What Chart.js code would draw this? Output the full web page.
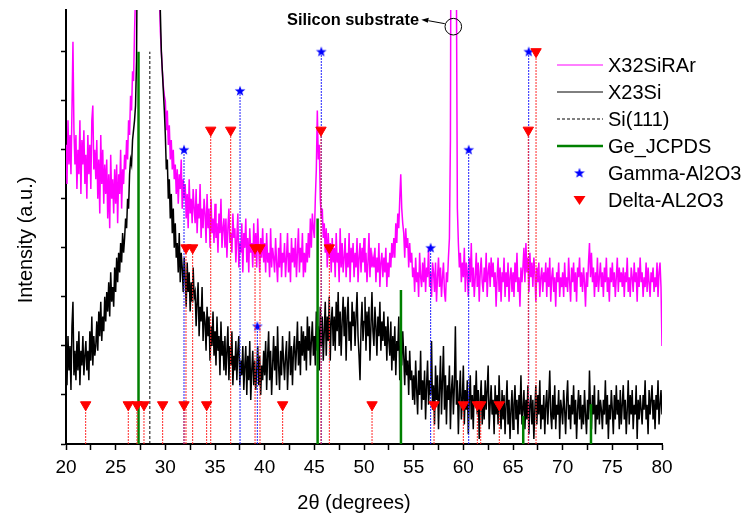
<!DOCTYPE html>
<html>
<head>
<meta charset="utf-8">
<title>XRD</title>
<script src="https://cdn.jsdelivr.net/npm/chart.js@4.4.1/dist/chart.umd.min.js"></script>
<style>
  html, body { margin: 0; padding: 0; background: #fff; }
  canvas { display: block; }
</style>
</head>
<body>
<canvas id="xrd" width="747" height="518"></canvas>
<script>
// scan grid: 20..80 deg, 0.1 deg step
const twoThetaStart = 20;
const twoThetaStep = 0.1;

// X32SiRAr, one row per degree
const x32SiRAr = [
  61, 53, 66, 57, 63, 55, 68, 82, 64, 57,
  63, 52, 60, 55, 66, 51, 62, 57, 64, 53,
  59, 50, 63, 55, 61, 52, 66, 69, 56, 60,
  54, 62, 50, 58, 47, 63, 53, 60, 49, 57,
  51, 58, 46, 55, 44, 59, 50, 54, 47, 56,
  49, 57, 45, 55, 51, 60, 48, 56, 53, 59,
  56, 62, 58, 66, 63, 71, 68, 76, 74, 84,
  92, 120, 200, 200, 200, 200, 200, 200, 200, 200,
  200, 200, 200, 200, 200, 200, 200, 200, 200, 200,
  200, 200, 200, 130, 92, 84, 80, 76, 73, 71,
  70, 64, 68, 61, 65, 58, 62, 56, 60, 54,
  57, 51, 56, 49, 55, 52, 58, 48, 54, 50,
  53, 46, 51, 44, 54, 47, 50, 45, 52, 48,
  45, 52, 43, 49, 46, 53, 42, 48, 44, 50,
  47, 41, 51, 44, 48, 40, 50, 43, 46, 41,
  49, 42, 45, 39, 47, 43, 50, 40, 44, 46,
  40, 46, 38, 44, 48, 41, 43, 39, 47, 42,
  44, 37, 42, 47, 36, 41, 39, 45, 35, 43,
  40, 46, 37, 42, 35, 44, 39, 41, 36, 45,
  38, 43, 36, 46, 40, 35, 42, 38, 44, 37,
  41, 35, 43, 37, 39, 34, 44, 36, 40, 38,
  35, 42, 37, 33, 40, 36, 43, 34, 39, 37,
  41, 34, 38, 43, 35, 39, 33, 42, 37, 40,
  36, 42, 34, 39, 44, 35, 40, 37, 43, 34,
  39, 35, 41, 37, 43, 38, 46, 40, 47, 44,
  42, 50, 56, 68, 58, 61, 50, 46, 48, 42,
  45, 39, 44, 36, 43, 38, 41, 35, 42, 37,
  40, 34, 43, 37, 39, 33, 44, 36, 41, 35,
  38, 42, 34, 39, 36, 43, 33, 40, 37, 41,
  34, 39, 36, 42, 33, 38, 41, 35, 40, 37,
  42, 35, 39, 33, 37, 43, 34, 40, 36, 38,
  36, 40, 33, 38, 35, 41, 32, 37, 39, 34,
  38, 35, 40, 32, 37, 34, 39, 36, 41, 38,
  42, 38, 45, 41, 47, 44, 50, 55, 48, 45,
  43, 38, 44, 40, 42, 36, 41, 37, 39, 34,
  36, 31, 38, 33, 35, 30, 39, 34, 32, 37,
  33, 38, 31, 36, 34, 40, 32, 35, 30, 37,
  35, 31, 37, 29, 34, 38, 32, 36, 30, 34,
  37, 31, 29, 35, 33, 38, 42, 62, 150, 300,
  300, 300, 250, 95, 48, 41, 36, 39, 33, 37,
  34, 40, 31, 37, 35, 30, 38, 33, 41, 32,
  36, 30, 34, 39, 32, 37, 29, 35, 38, 33,
  31, 36, 33, 39, 30, 35, 37, 32, 38, 34,
  37, 32, 35, 28, 34, 38, 31, 36, 29, 35,
  33, 38, 30, 35, 32, 37, 29, 34, 36, 31,
  35, 30, 37, 33, 39, 31, 34, 28, 36, 33,
  36, 40, 33, 41, 35, 38, 31, 39, 34, 37,
  32, 38, 35, 29, 36, 33, 37, 30, 34, 36,
  31, 35, 33, 37, 30, 36, 32, 38, 29, 34,
  36, 31, 34, 28, 35, 33, 37, 30, 34, 32,
  35, 30, 37, 32, 34, 31, 38, 33, 29, 36,
  33, 37, 31, 35, 29, 36, 34, 38, 32, 35,
  31, 36, 33, 28, 35, 32, 37, 41, 34, 39,
  33, 36, 30, 35, 32, 38, 31, 34, 37, 32,
  35, 30, 36, 33, 38, 31, 34, 29, 36, 33,
  37, 32, 35, 30, 34, 38, 31, 36, 33, 35,
  32, 36, 30, 35, 33, 38, 31, 34, 30, 36,
  34, 31, 37, 33, 35, 29, 36, 32, 38, 33,
  35, 30, 34, 32, 37, 31, 36, 33, 30, 35,
  33, 36, 31, 34, 32, 37, 30, 35, 37, 32,
  20
];

// X23Si
const x23Si = [
  18, 12, 22, 15, 20, 11, 24, 29, 14, 19,
  13, 21, 15, 23, 12, 19, 16, 22, 14, 18,
  21, 15, 19, 13, 23, 17, 26, 16, 22, 18,
  20, 25, 19, 27, 22, 29, 21, 26, 23, 30,
  25, 31, 27, 33, 26, 35, 29, 32, 28, 36,
  31, 38, 33, 39, 35, 41, 37, 43, 39, 42,
  46, 44, 50, 48, 55, 58, 57, 62, 64, 66,
  69, 78, 110, 200, 200, 200, 200, 200, 200, 200,
  200, 200, 200, 200, 200, 200, 200, 200, 200, 200,
  200, 200, 200, 140, 100, 88, 80, 76, 72, 68,
  63, 56, 58, 50, 54, 46, 51, 43, 48, 40,
  45, 38, 41, 35, 43, 33, 39, 36, 31, 38,
  34, 28, 37, 31, 35, 27, 33, 29, 36, 30,
  31, 24, 29, 33, 22, 28, 25, 32, 21, 27,
  25, 19, 28, 22, 26, 17, 24, 20, 27, 18,
  23, 16, 26, 19, 22, 14, 25, 18, 21, 15,
  22, 14, 19, 24, 13, 20, 16, 23, 12, 18,
  15, 21, 13, 19, 22, 12, 17, 14, 20, 11,
  16, 20, 10, 18, 13, 21, 9, 15, 19, 12,
  17, 11, 15, 20, 12, 18, 10, 16, 13, 19,
  14, 21, 11, 18, 23, 13, 19, 10, 16, 22,
  15, 20, 12, 24, 16, 11, 19, 14, 22, 17,
  13, 18, 21, 11, 17, 23, 14, 20, 12, 19,
  22, 15, 19, 25, 16, 21, 14, 24, 18, 23,
  17, 22, 15, 26, 19, 24, 16, 21, 25, 18,
  22, 16, 27, 19, 24, 15, 28, 20, 26, 17,
  23, 29, 18, 26, 21, 30, 17, 25, 28, 20,
  26, 19, 29, 23, 31, 20, 27, 18, 25, 30,
  22, 28, 17, 26, 30, 21, 25, 19, 29, 24,
  27, 20, 26, 31, 22, 18, 13, 24, 29, 21,
  25, 30, 19, 27, 22, 28, 17, 24, 31, 23,
  20, 28, 24, 18, 26, 22, 29, 19, 25, 21,
  27, 20, 24, 17, 26, 21, 18, 25, 15, 22,
  17, 24, 14, 21, 19, 26, 13, 20, 16, 23,
  18, 12, 20, 14, 17, 10, 19, 13, 15, 9,
  14, 8, 17, 11, 6, 15, 10, 19, 7, 13,
  9, 15, 5, 12, 17, 8, 13, 10, 21, 7,
  12, 4, 16, 9, 14, 3, 11, 18, 6, 13,
  20, 7, 14, 4, 12, 9, 16, 3, 11, 14,
  6, 12, 24, 8, 13, 2, 10, 15, 5, 9,
  16, 4, 11, 7, 13, 2, 9, 14, 5, 10,
  3, 12, 8, 15, 6, 11, 1, 9, 13, 4,
  10, 5, 13, 7, 11, 16, 3, 8, 12, 6,
  9, 2, 12, 6, 10, 4, 14, 7, 3, 11,
  5, 10, 2, 8, 13, 4, 9, 1, 7, 11,
  3, 8, 12, 5, 9, 2, 10, 6, 14, 4,
  7, 11, 3, 9, 5, 12, 2, 8, 10, 4,
  9, 1, 7, 12, 4, 10, 6, 13, 3, 8,
  5, 10, 2, 8, 11, 4, 9, 15, 6, 3,
  10, 5, 12, 3, 8, 6, 11, 1, 9, 7,
  4, 11, 7, 2, 9, 13, 5, 8, 3, 10,
  6, 12, 4, 9, 1, 7, 11, 5, 10, 3,
  8, 4, 11, 6, 2, 9, 5, 15, 7, 3,
  10, 6, 12, 2, 8, 5, 11, 4, 9, 7,
  3, 9, 6, 13, 4, 10, 1, 8, 5, 11,
  7, 2, 10, 5, 12, 6, 9, 3, 11, 4,
  8, 12, 5, 9, 2, 7, 13, 4, 10, 6,
  11, 3, 8, 6, 12, 1, 9, 5, 10, 7,
  4, 10, 7, 13, 5, 8, 2, 11, 6, 9,
  12, 5, 9, 3, 10, 7, 13, 4, 8, 11,
  6
];

// reference lines (position in 2theta, stick height)
const siPos = [28.44];
const siHeight = [80];
const gePos = [27.3, 45.33, 53.72, 66.03, 72.85];
const geHeight = [80, 46, 31.4, 5.7, 8.1];
const gammaPos = [31.88, 37.52, 39.26, 45.7, 56.71, 60.54, 66.58];
const gammaHeight = [60, 72, 24, 80, 40, 60, 80];
const deltaPos = [21.98, 26.27, 27.15, 27.85, 29.73, 31.88, 32.08, 32.75, 34.16, 34.57, 36.58,
  39.03, 39.53, 41.81, 45.67, 46.51, 50.81, 57.05, 60.0, 61.41, 61.75, 63.62, 66.54, 67.32];
const deltaHeight = [8, 8, 8, 8, 8, 8, 40, 40, 8, 64, 64,
  40, 40, 8, 64, 40, 8, 8, 8, 8, 8, 8, 64, 80];

const FONT = '"Liberation Sans", Arial, sans-serif';

const trace = vals => vals.map((v, i) => ({ x: +(twoThetaStart + i * twoThetaStep).toFixed(2), y: v }));
const sticks = (pos, h) => pos.flatMap((p, i) => [{ x: p, y: 0 }, { x: p, y: h[i] }, { x: p, y: null }]);
const topOnly = r => ctx => (ctx.raw && ctx.raw.y > 0) ? r : 0;

// filled five-point star marker
const star = document.createElement('canvas');
star.width = 12; star.height = 12;
(() => {
  const c = star.getContext('2d');
  c.beginPath();
  for (let k = 0; k < 10; k++) {
    const r = k % 2 ? 2.3 : 5.6;
    const a = -Math.PI / 2 + k * Math.PI / 5;
    c.lineTo(6 + r * Math.cos(a), 6.3 + r * Math.sin(a));
  }
  c.closePath();
  c.fillStyle = '#0000ff';
  c.fill();
})();

const keyPlugin = {
  id: 'key',
  afterDraw(chart) {
    const { ctx, scales } = chart;
    const ds = chart.data.datasets;
    ctx.save();

    // legend box over the upper right
    ctx.font = '20px ' + FONT;
    ctx.textBaseline = 'middle';
    ds.slice().sort((a, b) => a.keyRow - b.keyRow).forEach((d, i) => {
      const y = 65 + i * 27;
      if (d.keyMarker === 'star') {
        ctx.drawImage(star, 579.5 - 6, y - 6);
      } else if (d.keyMarker === 'triangle') {
        ctx.fillStyle = d.pointBackgroundColor;
        ctx.beginPath();
        ctx.moveTo(573.5, y - 4);
        ctx.lineTo(585.5, y - 4);
        ctx.lineTo(579.5, y + 5);
        ctx.closePath();
        ctx.fill();
      } else {
        ctx.strokeStyle = d.borderColor;
        ctx.lineWidth = d.keyWidth || d.borderWidth;
        ctx.setLineDash(d.borderDash || []);
        ctx.beginPath();
        ctx.moveTo(557, y);
        ctx.lineTo(603, y);
        ctx.stroke();
        ctx.setLineDash([]);
      }
      ctx.fillStyle = '#000';
      ctx.fillText(d.label, 608, y + 1);
    });

    // axis titles
    ctx.save();
    ctx.translate(26, 240);
    ctx.rotate(-Math.PI / 2);
    ctx.textAlign = 'center';
    ctx.fillText('Intensity (a.u.)', 0, 0);
    ctx.restore();
    ctx.textAlign = 'center';
    ctx.fillText('2θ (degrees)', 354, 503);
    ctx.textAlign = 'left';

    // substrate callout
    const cx = scales.x.getPixelForValue(58.99);
    const cy = scales.y.getPixelForValue(85.1);
    ctx.strokeStyle = '#000';
    ctx.lineWidth = 1;
    ctx.beginPath();
    ctx.arc(cx, cy, 8.3, 0, Math.PI * 2);
    ctx.stroke();
    ctx.beginPath();
    ctx.moveTo(cx - 8.5, cy - 3);
    ctx.lineTo(cx - 25, cy - 6);
    ctx.stroke();
    ctx.fillStyle = '#000';
    ctx.beginPath();
    ctx.moveTo(cx - 32, cy - 6.8);
    ctx.lineTo(cx - 24.5, cy - 9);
    ctx.lineTo(cx - 25.5, cy - 4);
    ctx.closePath();
    ctx.fill();
    ctx.font = 'bold 17px ' + FONT;
    ctx.textBaseline = 'alphabetic';
    ctx.fillText('Silicon substrate', 287, 25, 132);
    ctx.restore();
  }
};

new Chart(document.getElementById('xrd'), {
  type: 'line',
  data: {
    datasets: [
      {
        label: 'Delta-AL2O3', keyRow: 5, keyMarker: 'triangle',
        data: sticks(deltaPos, deltaHeight),
        borderColor: '#ff2a2a', borderWidth: 1, borderDash: [2, 1],
        pointStyle: 'triangle', rotation: 180, pointRadius: topOnly(6),
        pointBackgroundColor: '#ff0000', pointBorderColor: '#ff0000', pointBorderWidth: 1,
        order: 0
      },
      {
        label: 'Gamma-Al2O3', keyRow: 4, keyMarker: 'star',
        data: sticks(gammaPos, gammaHeight),
        borderColor: '#2020ff', borderWidth: 1, borderDash: [2, 1],
        pointStyle: star, pointRadius: topOnly(5),
        order: 0
      },
      {
        label: 'Ge_JCPDS', keyRow: 3,
        data: sticks(gePos, geHeight),
        borderColor: '#008000', borderWidth: 2.5, pointRadius: 0,
        order: 1
      },
      {
        label: 'Si(111)', keyRow: 2,
        data: sticks(siPos, siHeight),
        borderColor: '#000000', borderWidth: 1, borderDash: [3, 2], pointRadius: 0,
        order: 1
      },
      {
        label: 'X23Si', keyRow: 1, keyWidth: 1,
        data: trace(x23Si),
        borderColor: '#000000', borderWidth: 1.5, pointRadius: 0,
        order: 3
      },
      {
        label: 'X32SiRAr', keyRow: 0, keyWidth: 1,
        data: trace(x32SiRAr),
        borderColor: '#ff00ff', borderWidth: 1.5, pointRadius: 0,
        order: 4
      }
    ]
  },
  options: {
    responsive: false,
    animation: false,
    devicePixelRatio: 1,
    layout: { padding: { top: 10, right: 85, bottom: 0, left: 0 } },
    elements: { line: { tension: 0 } },
    plugins: { legend: { display: false }, tooltip: { enabled: false } },
    scales: {
      x: {
        type: 'linear', min: 20, max: 80,
        ticks: {
          stepSize: 2.5, autoSkip: false, maxRotation: 0, padding: 6,
          color: '#000', font: { family: FONT, size: 19 },
          callback: v => v % 5 === 0 ? v : ''
        },
        grid: { drawOnChartArea: false, tickLength: 6, tickColor: '#000', tickWidth: 1.5 },
        border: { color: '#000', width: 2 },
        afterFit: s => { s.height = 74; }
      },
      y: {
        min: 0, max: 88.5,
        ticks: { display: false, stepSize: 10, includeBounds: false },
        grid: { drawOnChartArea: false, tickLength: 5, tickColor: '#000', tickWidth: 1.5 },
        border: { color: '#000', width: 2 },
        afterFit: s => { s.width = 66; }
      }
    }
  },
  plugins: [keyPlugin]
});
</script>
</body>
</html>
